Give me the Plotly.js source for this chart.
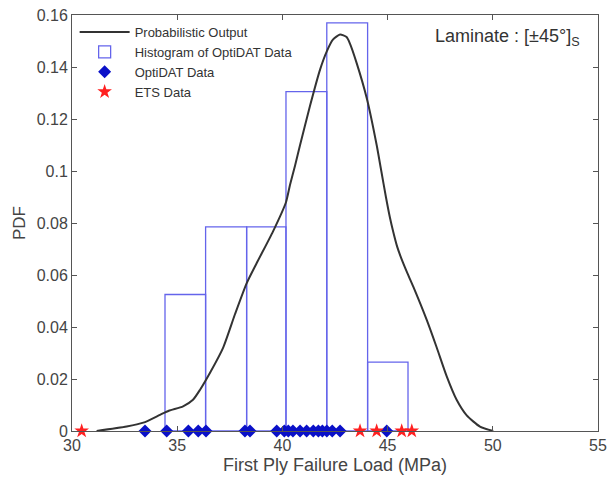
<!DOCTYPE html>
<html>
<head>
<meta charset="utf-8">
<script src="https://cdn.plot.ly/plotly-3.0.1.min.js"></script>
<style>html,body{margin:0;padding:0;background:#fff;}#chart{width:610px;height:479px;}</style>
</head>
<body>
<div id="chart"></div>
<script>
// Probabilistic output curve (PDF)
const curveX = [31.17, 32.60, 33.39, 34.18, 34.60, 35.28, 35.75, 36.08, 36.60, 37.18, 37.75, 38.30, 38.78, 39.55, 40.17, 40.36, 40.60, 40.84, 41.31, 41.79, 42.11, 42.40, 42.74, 43.05, 43.21, 43.53, 44.01, 44.48, 44.70, 44.92, 45.10, 45.27, 45.45, 45.67, 45.95, 46.22, 46.86, 47.33, 47.81, 48.28, 48.76, 49.39, 50.02];
const curveY = [0, 0.0017, 0.0032, 0.0062, 0.0078, 0.0095, 0.0120, 0.0158, 0.0230, 0.0320, 0.0450, 0.0568, 0.0646, 0.0767, 0.0880, 0.0946, 0.1020, 0.1100, 0.1250, 0.1390, 0.1460, 0.1505, 0.1525, 0.1515, 0.1490, 0.1415, 0.1280, 0.1100, 0.1000, 0.0900, 0.0825, 0.0765, 0.0710, 0.0660, 0.0605, 0.0555, 0.0427, 0.0322, 0.0210, 0.0120, 0.0060, 0.0017, 0];

// Histogram of OptiDAT data
const binEdges = [34.42, 36.35, 38.30, 40.17, 42.11, 44.05, 45.97];
const binHeights = [0.0525, 0.0785, 0.0785, 0.1305, 0.1570, 0.0265];

// OptiDAT data points
const optidatX = [33.47, 34.50, 35.53, 36.00, 36.37, 38.22, 38.46, 39.73, 40.09, 40.28, 40.50, 40.84, 41.15, 41.47, 41.71, 41.90, 42.11, 42.37, 42.74, 44.96];
// ETS data points
const etsX = [30.46, 43.69, 44.48, 45.67, 46.15];

const xTicks = [30, 35, 40, 45, 50, 55];
const yTicks = [0, 0.02, 0.04, 0.06, 0.08, 0.1, 0.12, 0.14, 0.16];
const yTickText = ['0', '0.02', '0.04', '0.06', '0.08', '0.1', '0.12', '0.14', '0.16'];

const binCenters = binHeights.map((h, i) => (binEdges[i] + binEdges[i + 1]) / 2);
const binWidths = binHeights.map((h, i) => binEdges[i + 1] - binEdges[i]);

const FONT = 'Liberation Sans, Arial, Helvetica, sans-serif';

const traces = [
  {
    type: 'scatter', mode: 'lines', name: 'Probabilistic Output',
    x: curveX, y: curveY,
    line: {color: '#333333', width: 2, shape: 'spline', smoothing: 0.6},
    cliponaxis: false
  },
  {
    type: 'bar', name: 'Histogram of OptiDAT Data',
    x: binCenters, y: binHeights, width: binWidths,
    marker: {color: 'rgba(255,255,255,0)', line: {color: 'rgb(100,100,235)', width: 1.3}}
  },
  {
    type: 'scatter', mode: 'markers', name: 'OptiDAT Data',
    x: optidatX, y: optidatX.map(() => 0),
    marker: {symbol: 'diamond', color: '#0a10c8', size: 10},
    cliponaxis: false
  },
  {
    type: 'scatter', mode: 'markers', name: 'ETS Data',
    x: etsX, y: etsX.map(() => 0),
    marker: {symbol: 'star', color: '#ff2020', size: 11, line: {width: 0}},
    cliponaxis: false
  }
];

const axisCommon = {
  showline: true, mirror: 'ticks', linecolor: '#555555', linewidth: 1,
  ticks: 'inside', ticklen: 5, tickcolor: '#555555',
  showgrid: false, zeroline: false,
  tickfont: {family: FONT, size: 16, color: '#444444'}
};

const layout = {
  width: 610, height: 479,
  margin: {l: 72, r: 12, t: 15, b: 48},
  paper_bgcolor: '#ffffff', plot_bgcolor: '#ffffff',
  showlegend: true,
  bargap: 0,
  legend: {
    x: 0.005, y: 0.995, xanchor: 'left', yanchor: 'top',
    bgcolor: 'rgba(255,255,255,0)', borderwidth: 0,
    font: {family: FONT, size: 13, color: '#333333'},
    tracegroupgap: 0, itemwidth: 50
  },
  xaxis: Object.assign({}, axisCommon, {
    range: [30, 55], tickvals: xTicks, ticktext: xTicks.map(String),
    title: {text: 'First Ply Failure Load (MPa)', font: {family: FONT, size: 18, color: '#444444'}, standoff: 5}
  }),
  yaxis: Object.assign({}, axisCommon, {
    range: [0, 0.16], tickvals: yTicks, ticktext: yTickText,
    title: {text: 'PDF', font: {family: FONT, size: 17, color: '#444444'}, standoff: 6}
  }),
  annotations: [{
    xref: 'paper', yref: 'paper', x: 0.97, y: 0.947, xanchor: 'right', yanchor: 'middle',
    text: 'Laminate : [±45°]<sub>S</sub>', showarrow: false,
    font: {family: FONT, size: 18, color: '#333333'}
  }]
};

Plotly.newPlot('chart', traces, layout, {displayModeBar: false, staticPlot: true});
</script>
</body>
</html>
